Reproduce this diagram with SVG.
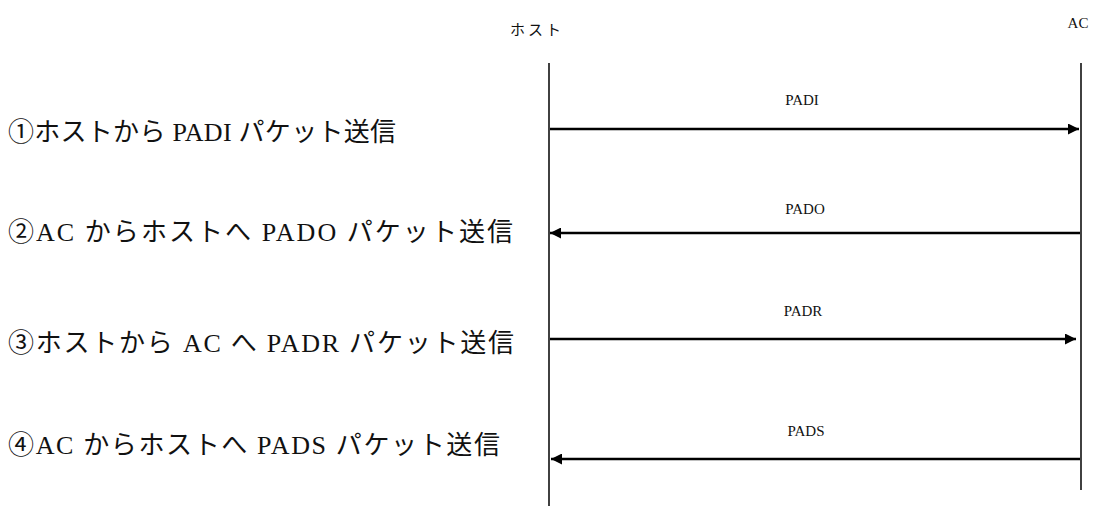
<svg xmlns="http://www.w3.org/2000/svg" width="1098" height="506" viewBox="0 0 1098 506">
<defs>
<style>
.big{font-family:"Liberation Serif","Noto Sans CJK JP",serif;font-size:26px;fill:#111;}
.small{font-family:"Liberation Serif","Noto Sans CJK JP",serif;font-size:15px;fill:#111;text-anchor:middle;}
.life{stroke:#111;stroke-width:1.6;fill:none;}
.msg{stroke:#000;stroke-width:2.5;fill:none;marker-end:url(#ah);}
</style>
<marker id="ah" viewBox="0 0 10 10" refX="10" refY="5" markerWidth="5.2" markerHeight="4.4" markerUnits="strokeWidth" orient="auto">
<path d="M0,0 L10,5 L0,10 z" fill="#000"/>
</marker>
</defs>
<rect width="1098" height="506" fill="#fff"/>
<g id="host">
<text class="small" x="537" y="35" letter-spacing="3">ホスト</text>
<line class="life" x1="549" y1="63" x2="549" y2="506"/>
</g>
<g id="ac">
<text class="small" x="1078" y="28">AC</text>
<line class="life" x1="1081" y1="63" x2="1081" y2="490"/>
</g>
<g id="steps">
<text class="big" x="8" y="141" textLength="388" lengthAdjust="spacing">①ホストから PADI パケット送信</text>
<text class="big" x="8" y="241" textLength="505" lengthAdjust="spacing">②AC からホストへ PADO パケット送信</text>
<text class="big" x="8" y="352" textLength="506" lengthAdjust="spacing">③ホストから AC へ PADR パケット送信</text>
<text class="big" x="8" y="454" textLength="492" lengthAdjust="spacing">④AC からホストへ PADS パケット送信</text>
</g>
<g id="connectors">
<line class="msg" x1="550" y1="129" x2="1079" y2="129"/>
<text class="small" x="802" y="105">PADI</text>
<line class="msg" x1="1080" y1="233" x2="550" y2="233"/>
<text class="small" x="805" y="214">PADO</text>
<line class="msg" x1="550" y1="339" x2="1076" y2="339"/>
<text class="small" x="803" y="316">PADR</text>
<line class="msg" x1="1080" y1="459" x2="551" y2="459"/>
<text class="small" x="806" y="436">PADS</text>
</g>
</svg>
